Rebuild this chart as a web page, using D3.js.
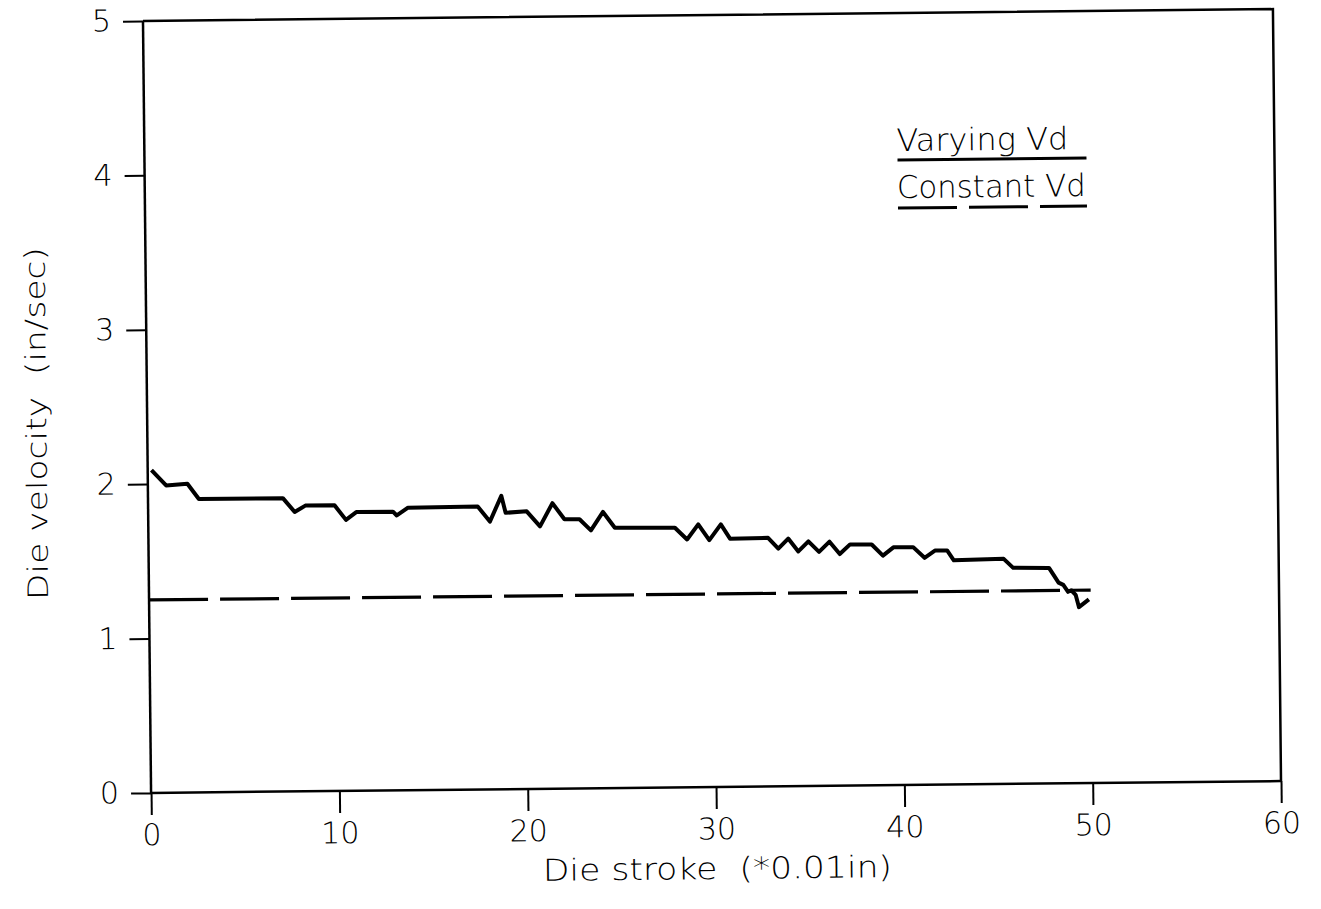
<!DOCTYPE html>
<html>
<head>
<meta charset="utf-8">
<script src="https://cdn.jsdelivr.net/npm/d3@7"></script>
<style>
  html, body { margin: 0; padding: 0; background: #fff; }
  svg { display: block; }
  text { font-family: "DejaVu Sans", "Liberation Sans", sans-serif; font-weight: 200; fill: #000; white-space: pre; }
</style>
</head>
<body>
<svg id="chart" width="1321" height="909"></svg>
<script>
// ---- data ----
const strokeVarying = [0.2, 0.97, 2.1, 2.7, 7.16, 7.78, 8.35, 9.9, 10.5, 11.05, 13.0, 13.2, 13.8,
  17.5, 18.14, 18.76, 18.98, 20.1, 20.8, 21.47, 22.1, 22.9, 23.5, 24.15, 24.77, 27.96, 28.6, 29.2,
  29.78, 30.4, 30.88, 32.9, 33.44, 33.97, 34.5, 35.04, 35.6, 36.16, 36.7, 37.25, 38.4, 38.99, 39.55,
  40.6, 41.2, 41.77, 42.4, 42.75, 45.4, 45.9, 47.8, 48.3, 48.55, 48.8, 48.97, 49.2, 49.37, 49.9];
const velocityVarying = [2.09, 1.99, 2.0, 1.90, 1.90, 1.81, 1.85, 1.85, 1.755, 1.805, 1.805, 1.78, 1.83,
  1.833, 1.734, 1.90, 1.79, 1.798, 1.70, 1.849, 1.744, 1.743, 1.67, 1.789, 1.686, 1.682, 1.605, 1.702,
  1.599, 1.70, 1.607, 1.61, 1.54, 1.604, 1.52, 1.584, 1.516, 1.581, 1.50, 1.562, 1.56, 1.487, 1.54,
  1.54, 1.47, 1.517, 1.516, 1.452, 1.458, 1.399, 1.396, 1.30, 1.285, 1.24, 1.25, 1.22, 1.14, 1.19];
const strokeConstant = [0, 50];
const velocityConstant = [1.25, 1.25];
const xTicks = [0, 10, 20, 30, 40, 50, 60];
const yTicks = [0, 1, 2, 3, 4, 5];
const legendLabels = ["Varying Vd", "Constant Vd"];
const xTitle = "Die stroke  (*0.01in)";
const yTitle = "Die velocity  (in/sec)";

// ---- layout ----
const L = 147, R = 1277, T = 15, B = 787;
const svg = d3.select("#chart");
const g = svg.append("g")
  .attr("transform", `rotate(-0.6, ${(L + R) / 2}, ${(T + B) / 2})`);

const x = d3.scaleLinear().domain([0, 60]).range([L, R]);
const y = d3.scaleLinear().domain([0, 5]).range([B, T]);

// frame top & right
g.append("path")
  .attr("d", `M${L},${T}H${R}V${B}`)
  .attr("fill", "none").attr("stroke", "#000").attr("stroke-width", 2.5);

const xAxis = d3.axisBottom(x).tickValues(xTicks).tickSize(22).tickPadding(9).tickFormat(d3.format("d"));
const yAxis = d3.axisLeft(y).tickValues(yTicks).tickSize(20).tickPadding(12).tickFormat(d3.format("d"));

const gx = g.append("g").attr("transform", `translate(0,${B})`).call(xAxis);
const gy = g.append("g").attr("transform", `translate(${L},0)`).call(yAxis);
[gx, gy].forEach(a => {
  a.select(".domain").attr("stroke", "#000").attr("stroke-width", 2.5);
  a.selectAll(".tick line").attr("stroke", "#000").attr("stroke-width", 2);
  a.selectAll(".tick text").attr("fill", "#000")
    .style("font-family", '"DejaVu Sans", sans-serif').style("font-weight", 200).style("font-size", "30px");
});
gy.select(".domain").attr("d", `M${0},${B}V${T}`);
gx.select(".domain").attr("d", `M${L},0H${R}`);

// data lines
const line = d3.line().x(d => x(d[0])).y(d => y(d[1]));
g.append("path")
  .datum(strokeVarying.map((s, i) => [s, velocityVarying[i]]))
  .attr("d", line)
  .attr("fill", "none").attr("stroke", "#000").attr("stroke-width", 4)
  .attr("stroke-linejoin", "round");
g.append("path")
  .datum(strokeConstant.map((s, i) => [s, velocityConstant[i]]))
  .attr("d", line)
  .attr("fill", "none").attr("stroke", "#000").attr("stroke-width", 3.2)
  .attr("stroke-dasharray", "59,12");

// titles
g.append("text")
  .attr("x", 538).attr("y", 879)
  .attr("textLength", 349).attr("lengthAdjust", "spacingAndGlyphs")
  .style("font-size", "30px")
  .text(xTitle);
g.append("text")
  .attr("transform", `translate(46,593) rotate(-90)`)
  .attr("textLength", 353).attr("lengthAdjust", "spacingAndGlyphs")
  .style("font-size", "28px")
  .text(yTitle);

// legend
const lg = g.append("g");
lg.append("text").attr("x", 899).attr("y", 153).style("font-size", "31px")
  .attr("textLength", 172).attr("lengthAdjust", "spacingAndGlyphs").text(legendLabels[0]);
lg.append("line").attr("x1", 900).attr("x2", 1089).attr("y1", 162).attr("y2", 162)
  .attr("stroke", "#000").attr("stroke-width", 3);
lg.append("text").attr("x", 899).attr("y", 200).style("font-size", "31px")
  .attr("textLength", 189).attr("lengthAdjust", "spacingAndGlyphs").text(legendLabels[1]);
lg.append("line").attr("x1", 900).attr("x2", 1089).attr("y1", 210).attr("y2", 210)
  .attr("stroke", "#000").attr("stroke-width", 3).attr("stroke-dasharray", "59,12");
</script>
</body>
</html>
